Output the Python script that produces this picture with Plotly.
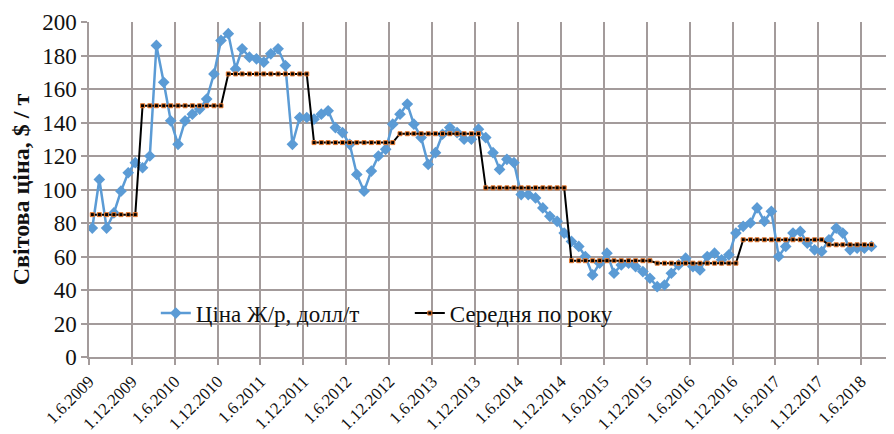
"""World price chart: monthly price with yearly average step line."""

import pandas as pd
import plotly.graph_objects as go

# monthly prices, $/t (points on the 15th of each month)
price_2009 = [77, 106, 77, 86, 99, 110, 116]                      # Jun-Dec
price_2010 = [113, 120, 186, 164, 141, 127, 141, 145, 148, 154, 169, 189]
price_2011 = [193, 172, 184, 179, 178, 176, 181, 184, 174, 127, 143, 143]
price_2012 = [142, 145, 147, 137, 134, 127, 109, 99, 111, 120, 124, 139]
price_2013 = [145, 151, 139, 131, 115, 122, 133, 137, 134, 130, 130, 136]
price_2014 = [131, 122, 112, 118, 116, 97, 97, 95, 89, 84, 81, 74]
price_2015 = [69, 66, 60, 49, 56, 62, 50, 55, 56, 54, 51, 47]
price_2016 = [42, 43, 50, 55, 59, 54, 52, 60, 62, 58, 61, 74]
price_2017 = [78, 80, 89, 81, 87, 60, 66, 74, 75, 68, 64, 63]
price_2018 = [70, 77, 74, 64, 65, 65, 66]                          # Jan-Jul

years = [2009, 2010, 2011, 2012, 2013, 2014, 2015, 2016, 2017, 2018]
year_avg = [85, 150, 169, 128, 133.3, 101, 57.5, 56, 70, 67]

first_month = {2009: 6}

price_by_year = [price_2009, price_2010, price_2011, price_2012, price_2013,
                 price_2014, price_2015, price_2016, price_2017, price_2018]

dates, prices, avgs = [], [], []
for yr, vals, avg in zip(years, price_by_year, year_avg):
    start = first_month.get(yr, 1)
    for k, v in enumerate(vals):
        dates.append(pd.Timestamp(yr, start + k, 15))
        prices.append(v)
        avgs.append(avg)

GRID = "#a39b9b"
FONT = "Times New Roman, Liberation Serif, DejaVu Serif, serif"

fig = go.Figure()
fig.add_trace(go.Scatter(
    x=dates, y=prices, mode="lines+markers", name="Ціна Ж/р, долл/т",
    line=dict(color="#5b9bd5", width=2.5),
    marker=dict(symbol="diamond", size=9, color="#5b9bd5"),
))
fig.add_trace(go.Scatter(
    x=dates, y=avgs, mode="lines+markers", name="Середня по року",
    line=dict(color="#000000", width=2),
    marker=dict(symbol="square", size=4, color="#000000",
                line=dict(color="#ed7d31", width=1)),
))

# page body adds an 8px offset, so the figure is drawn 8px smaller
fig.update_layout(
    width=886, height=426,
    margin=dict(l=81, r=0, t=14, b=77),
    paper_bgcolor="white", plot_bgcolor="white",
    font=dict(family=FONT, color="#111111"),
    showlegend=True,
    legend=dict(
        orientation="h", x=0.083, y=0.131, xanchor="left", yanchor="middle",
        bgcolor="rgba(0,0,0,0)", font=dict(size=23, family=FONT),
        entrywidth=209, entrywidthmode="pixels",
    ),
    xaxis=dict(
        type="date", range=["2009-06-01", "2018-10-19"],
        tick0="2009-06-01", dtick="M6", tickformat="%-d.%-m.%Y",
        tickangle=-45, tickfont=dict(size=17, family=FONT),
        showgrid=True, gridcolor=GRID, gridwidth=1.5,
        showline=True, linecolor=GRID, linewidth=1.5,
        ticks="outside", ticklen=6, tickcolor=GRID, tickwidth=1.5,
        automargin=False,
    ),
    yaxis=dict(
        range=[0, 200], dtick=20, tickfont=dict(size=23, family=FONT),
        showgrid=True, gridcolor=GRID, gridwidth=1.5,
        showline=True, linecolor=GRID, linewidth=1.5, zeroline=False,
        ticks="outside", ticklen=6, tickcolor=GRID, tickwidth=1.5,
        title=dict(text="<b>Світова ціна, $ / т</b>",
                   font=dict(size=24, family=FONT), standoff=8),
    ),
)

fig.write_html("out.html")
